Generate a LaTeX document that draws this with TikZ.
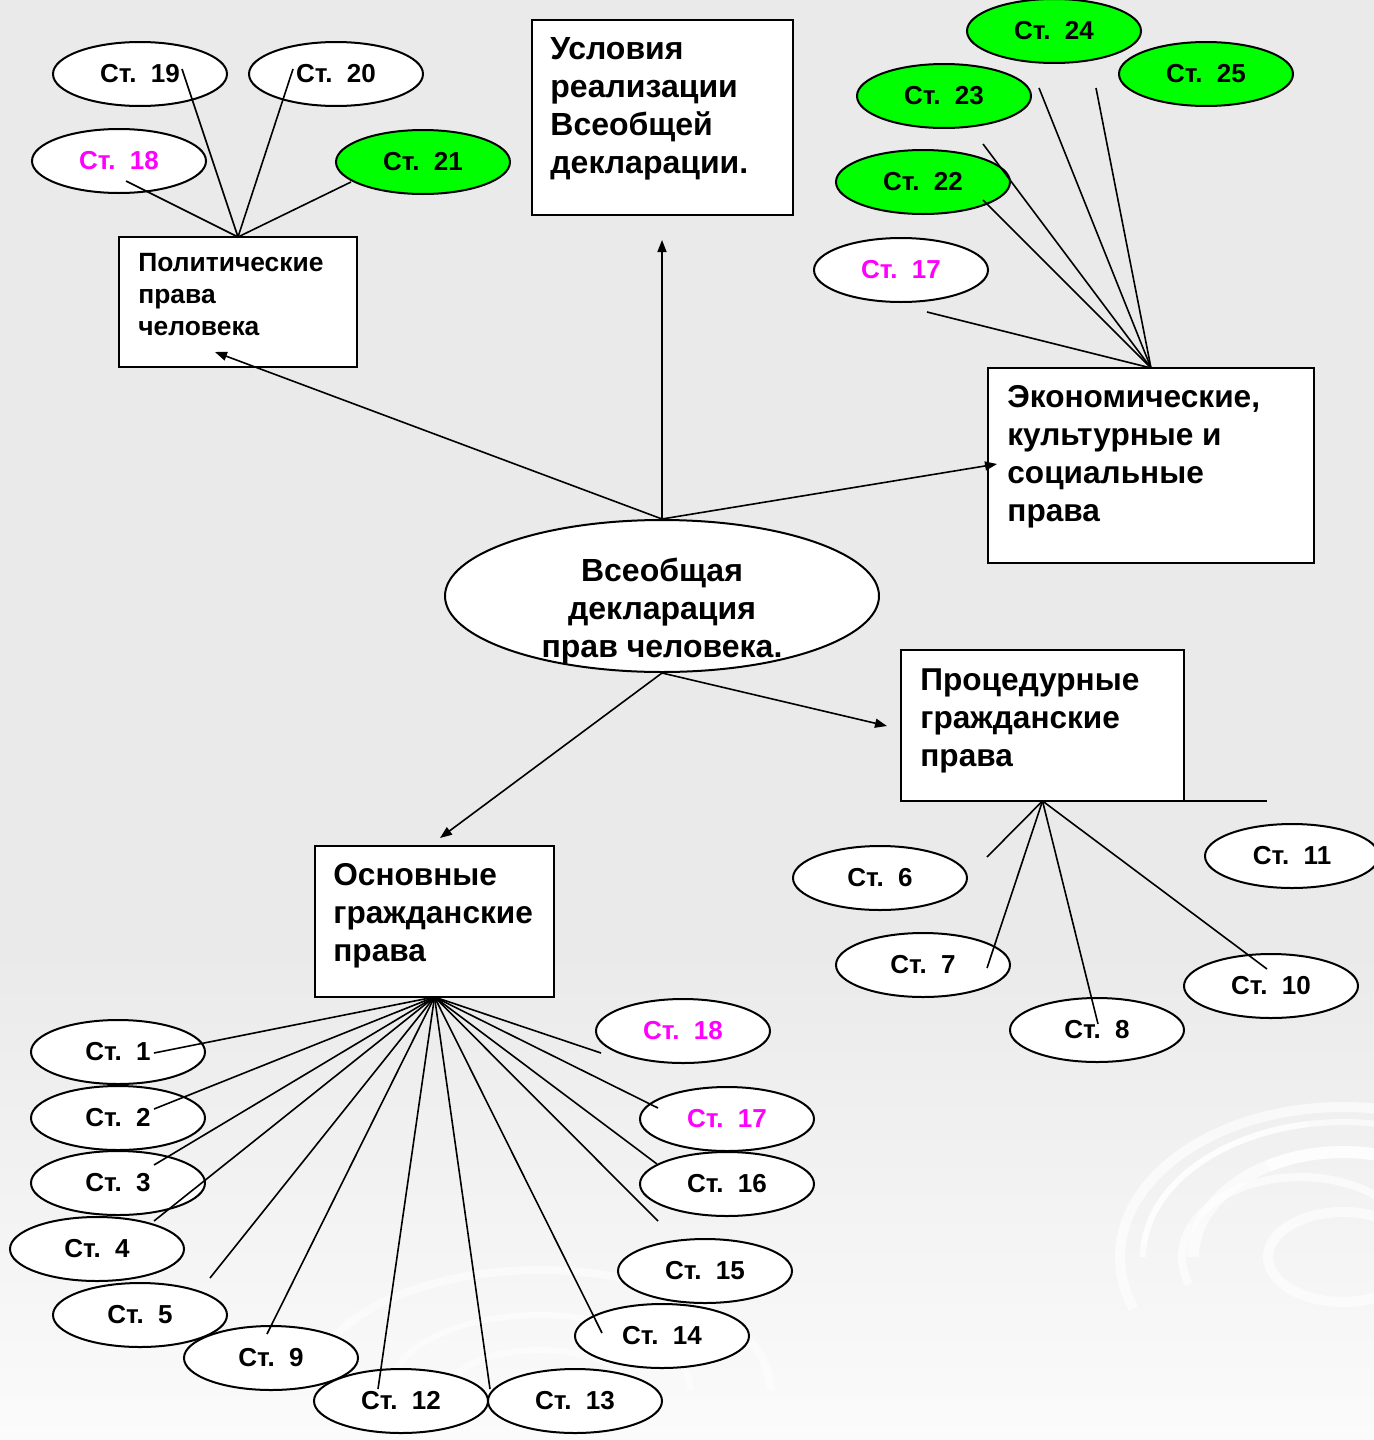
\documentclass[tikz,border=0pt]{standalone}
\usepackage{fontspec}
\setmainfont{Liberation Sans}
\usetikzlibrary{shapes.geometric,arrows.meta}
\definecolor{bggray}{RGB}{234,234,234}
\definecolor{bglight}{RGB}{251,251,251}
\definecolor{stgreen}{RGB}{0,255,0}
\definecolor{stmag}{RGB}{255,0,255}
\begin{document}
\begin{tikzpicture}[x=0.5pt,y=-0.5pt,
  st/.style={draw=black, line width=1pt, fill=white, ellipse, minimum width=87pt, minimum height=32pt, inner sep=0pt, font=\bfseries\fontsize{13}{15}\selectfont},
  stg/.style={st, fill=stgreen},
  stm/.style={st, text=stmag},
  box/.style={draw=black, line width=1pt, fill=white, rectangle, inner sep=0pt, outer sep=0pt, anchor=north west},
  boxtext/.style={anchor=north west, align=left, inner sep=0pt, font=\bfseries\fontsize{15.8}{19}\selectfont},
  link/.style={line width=0.8pt},
  arr/.style={line width=0.8pt, -{Triangle[length=6pt,width=4.5pt]}},
  swirl/.style={white, opacity=0.65}
]
% background
\useasboundingbox (0,0) rectangle (1374,1440);
\fill[bggray] (0,0) rectangle (1374,950);
\shade[top color=bggray, bottom color=bglight] (0,950) rectangle (1374,1440);
\begin{scope}[swirl]
  \draw[line width=5pt] (1343,1257) ellipse (75 and 45);
  \draw[line width=4pt] (1418,1257) arc (0:-200:118 and 80);
  \draw[line width=6pt] (1493,1257) arc (0:-120:150 and 105);
  \draw[line width=6pt] (1193,1257) arc (180:330:150 and 105);
  \draw[line width=3pt] (1543,1257) arc (0:-175:200 and 135);
  \draw[line width=3pt] (1143,1257) arc (180:260:200 and 135);
  \draw[line width=5pt] (1566,1257) arc (0:-200:223 and 150);
  \draw[line width=3pt, opacity=0.5] (630,1390) arc (0:-180:90 and 40);
  \draw[line width=3pt, opacity=0.5] (690,1390) arc (0:-180:150 and 75);
  \draw[line width=4pt, opacity=0.5] (770,1390) arc (0:-180:230 and 120);
\end{scope}

% boxes
\node[box, minimum width=119pt, minimum height=65pt] (polit) at (119,237) {};
\node[boxtext, font=\bfseries\fontsize{13.2}{16}\selectfont] (politT) at (138,253) {Политические\\права\\человека};
\node[box, minimum width=130.5pt, minimum height=97.5pt] (usl) at (532,20) {};
\node[boxtext, font=\bfseries\fontsize{16}{19}\selectfont] (uslT) at (550,37) {Условия\\реализации\\Всеобщей\\декларации.};
\node[box, minimum width=163pt, minimum height=97.5pt] (econ) at (988,368) {};
\node[boxtext] (econT) at (1007,385) {Экономические,\\культурные и\\социальные\\права};
\node[box, minimum width=141.5pt, minimum height=75.5pt] (proc) at (901,650) {};
\node[boxtext] (procT) at (920,668) {Процедурные\\гражданские\\права};
\node[box, minimum width=119.5pt, minimum height=75.5pt] (osn) at (315,846) {};
\node[boxtext] (osnT) at (333,863) {Основные\\гражданские\\права};

% central ellipse
\node[draw=black, line width=1pt, fill=white, ellipse, minimum width=217pt, minimum height=76pt, inner sep=0pt] (decl) at (662,596) {};
\node[anchor=north, align=center, inner sep=0pt, font=\bfseries\fontsize{16}{19}\selectfont] (declT) at (662,558) {Всеобщая\\декларация\\прав человека.};

% top-left ellipses
\node[st] (s19) at (140,74) {Ст.\ \ 19};
\node[st] (s20) at (336,74) {Ст.\ \ 20};
\node[stm] (s18a) at (119,161) {Ст.\ \ 18};
\node[stg] (s21) at (423,162) {Ст.\ \ 21};

% top-right ellipses
\node[stg] (s24) at (1054,31) {Ст.\ \ 24};
\node[stg] (s25) at (1206,74) {Ст.\ \ 25};
\node[stg] (s23) at (944,96) {Ст.\ \ 23};
\node[stg] (s22) at (923,182) {Ст.\ \ 22};
\node[stm] (s17a) at (901,270) {Ст.\ \ 17};

% procedural ellipses
\node[st] (s6) at (880,878) {Ст.\ \ 6};
\node[st] (s7) at (923,965) {Ст.\ \ 7};
\node[st] (s8) at (1097,1030) {Ст.\ \ 8};
\node[st] (s10) at (1271,986) {Ст.\ \ 10};
\node[st] (s11) at (1292,856) {Ст.\ \ 11};

% basic ellipses
\node[st] (s1) at (118,1052) {Ст.\ \ 1};
\node[st] (s2) at (118,1118) {Ст.\ \ 2};
\node[st] (s3) at (118,1183) {Ст.\ \ 3};
\node[st] (s4) at (97,1249) {Ст.\ \ 4};
\node[st] (s5) at (140,1315) {Ст.\ \ 5};
\node[st] (s9) at (271,1358) {Ст.\ \ 9};
\node[st] (s12) at (401,1401) {Ст.\ \ 12};
\node[st] (s13) at (575,1401) {Ст.\ \ 13};
\node[stm] (s18b) at (683,1031) {Ст.\ \ 18};
\node[stm] (s17b) at (727,1119) {Ст.\ \ 17};
\node[st] (s16) at (727,1184) {Ст.\ \ 16};
\node[st] (s15) at (705,1271) {Ст.\ \ 15};
\node[st] (s14) at (662,1336) {Ст.\ \ 14};

% connector ends
\coordinate (e19) at (182,69);
\coordinate (e20) at (293,69);
\coordinate (e18a) at (126,181);
\coordinate (e21) at (351,182);
\coordinate (e24) at (1039,88);
\coordinate (e25) at (1096,88);
\coordinate (e23) at (983,144);
\coordinate (e22) at (983,200);
\coordinate (e17a) at (927,312);
\coordinate (e6) at (987,857);
\coordinate (e7) at (987,968);
\coordinate (e8) at (1098,1024);
\coordinate (e10) at (1267,969);
\coordinate (procExt) at (1267,801);
\coordinate (e1) at (154,1053);
\coordinate (e2) at (154,1109);
\coordinate (e3) at (154,1165);
\coordinate (e4) at (154,1221);
\coordinate (e5) at (210,1278);
\coordinate (e9) at (267,1334);
\coordinate (e12) at (378,1389);
\coordinate (e13) at (490,1389);
\coordinate (e14) at (602,1333);
\coordinate (e15) at (658,1221);
\coordinate (e16) at (657,1164);
\coordinate (e17b) at (658,1108);
\coordinate (e18b) at (601,1053);
\coordinate (tPolit) at (215,352);
\coordinate (tUsl) at (662,240);
\coordinate (tEcon) at (997,464);
\coordinate (tOsn) at (440,838);
\coordinate (tProc) at (887,726);

% links
\foreach \e in {e19,e20,e18a,e21} \draw[link] (polit.north) -- (\e);
\foreach \e in {e24,e25,e23,e22,e17a} \draw[link] (econ.north) -- (\e);
\foreach \e in {e6,e7,e8,e10} \draw[link] (proc.south) -- (\e);
\draw[line width=1pt] (proc.south east) -- (proc.south east -| procExt);
\foreach \e in {e1,e2,e3,e4,e5,e9,e12,e13,e14,e15,e16,e17b,e18b} \draw[link] (osn.south) -- (\e);

% arrows
\draw[arr] (decl.north) -- (tPolit);
\draw[arr] (decl.north) -- (tUsl);
\draw[arr] (decl.north) -- (tEcon);
\draw[arr] (decl.south) -- (tOsn);
\draw[arr] (decl.south) -- (tProc);
\end{tikzpicture}
\end{document}
